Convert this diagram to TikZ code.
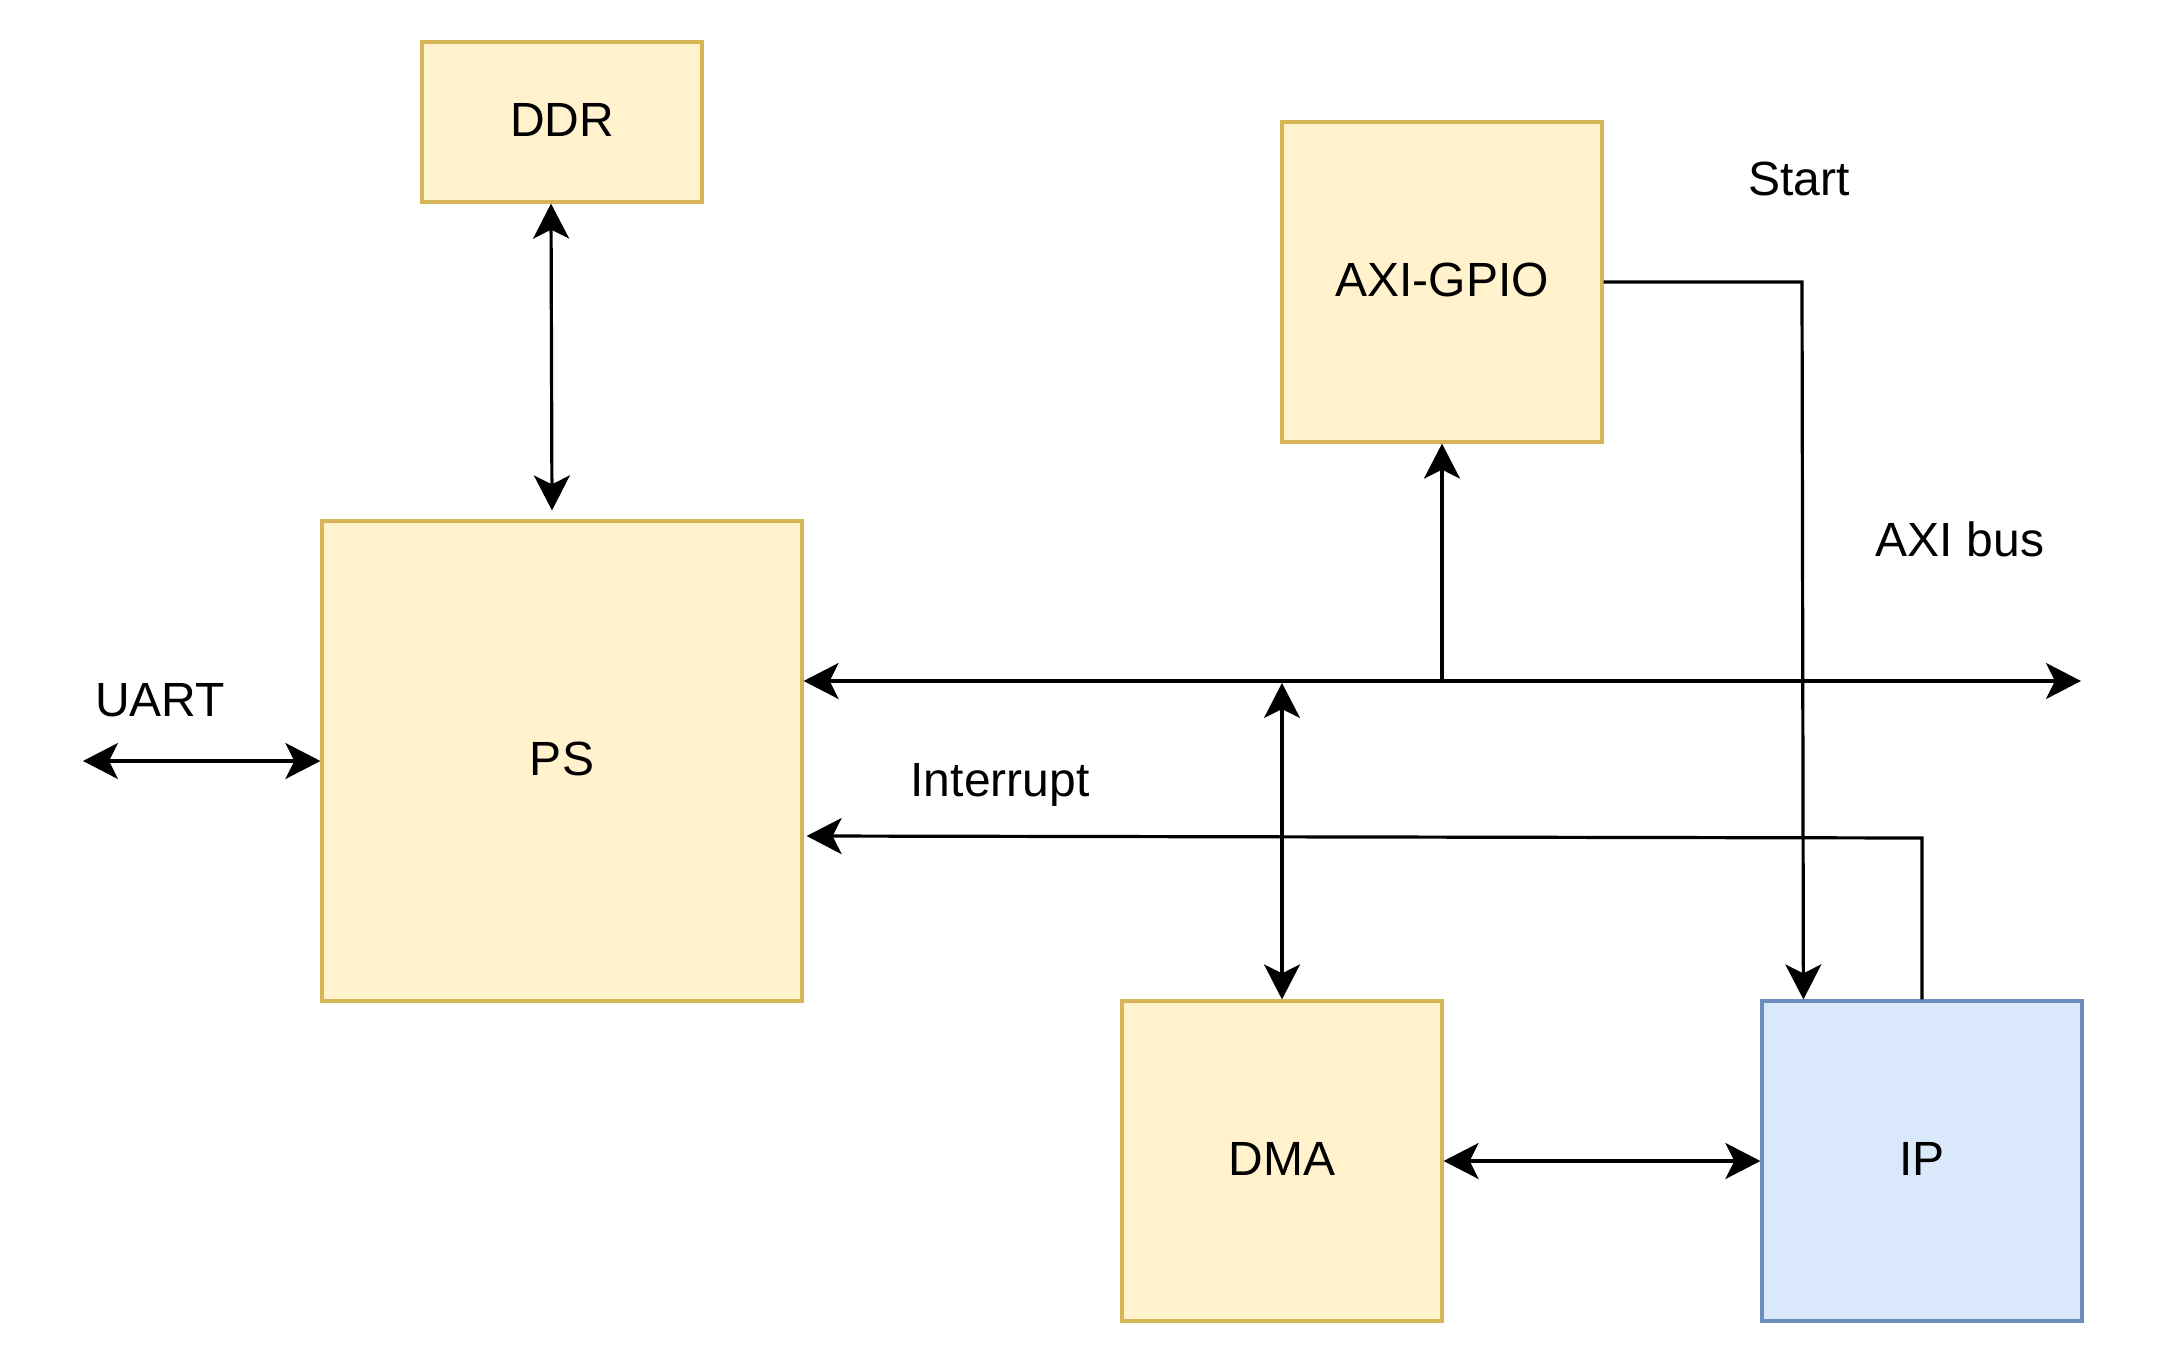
\documentclass[tikz,border=0pt]{standalone}
\usepackage{fontspec}
\setmainfont{Liberation Sans}
\usetikzlibrary{arrows.meta,calc}
\definecolor{yfill}{HTML}{FFF2CC}
\definecolor{ydraw}{HTML}{D6B656}
\definecolor{bfill}{HTML}{DAE8FC}
\definecolor{bdraw}{HTML}{6C8EBF}
\tikzset{
  x=0.5pt, y=-0.5pt,
  every node/.style={font=\fontsize{24}{28}\selectfont, text=black},
  boxbase/.style={line width=1.6pt, inner sep=0pt, text height=17.2pt, text depth=3pt},
  ybox/.style={boxbase, draw=ydraw, fill=yfill},
  bbox/.style={boxbase, draw=bdraw, fill=bfill},
  tip/.tip={Stealth[length=17.5pt,width=18pt,inset=4.5pt]},
  conn/.style={line width=1.6pt, draw=black},
  bi/.style={conn, tip-tip},
  uni/.style={conn, -tip},
  lbl/.style={inner sep=0pt, anchor=base}
}
\begin{document}
\begin{tikzpicture}
\useasboundingbox (0,0) rectangle (2160,1364);
% boxes
\node[ybox, minimum width=140pt, minimum height=80pt] (DDR) at (562,122) {DDR};
\node[ybox, minimum width=160pt, minimum height=160pt] (GPIO) at (1442,282) {AXI-GPIO};
\node[ybox, minimum width=240pt, minimum height=240pt] (PS) at (562,761) {PS};
\node[ybox, minimum width=160pt, minimum height=160pt] (DMA) at (1282,1161) {DMA};
\node[bbox, minimum width=160pt, minimum height=160pt] (IP) at (1922,1161) {IP};
% labels
\node[lbl] (lstart) at (1799,196) {Start};
\node[lbl] (laxi) at (1960,556) {AXI bus};
\node[lbl] (luart) at (160,716) {UART};
\node[lbl] (lint) at (1000,796) {Interrupt};
% helper coordinates
\coordinate (uartend) at (83,761);
\coordinate (busend) at (2081,681);
\coordinate (startcorner) at (1802,282);
\coordinate (intcorner) at (1922,838);
% connectors
\draw[bi] ($(DDR.south)+(-11,0)$) -- ($(PS.north)+(-10,-9)$);
\draw[bi] (uartend) -- (PS.west);
\draw[bi] ($(PS.east)+(0,-80)$) -- (busend);
\draw[uni] (GPIO.south |- busend) -- (GPIO.south);
\draw[bi] ($(DMA.north |- busend)+(0,2)$) -- (DMA.north);
\draw[uni] (GPIO.east) -- (startcorner) -- ($(IP.north west)+(43,0)$);
\draw[uni] (IP.north) -- (intcorner) -- ($(PS.east)+(3,75)$);
\draw[bi] (DMA.east) -- (IP.west);
\end{tikzpicture}
\end{document}
